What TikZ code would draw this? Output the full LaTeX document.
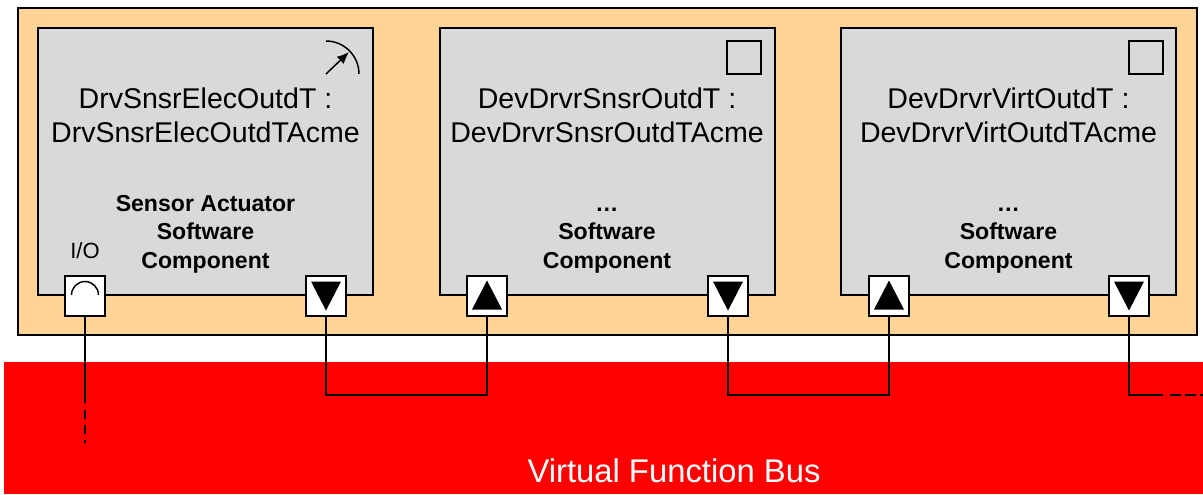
\documentclass[tikz,border=0pt]{standalone}
\usepackage{fontspec}
\setmainfont{Liberation Sans}
\usetikzlibrary{arrows.meta}
\definecolor{outerfill}{RGB}{255,212,150}
\definecolor{boxfill}{RGB}{217,217,217}
\definecolor{busred}{RGB}{255,0,0}
\tikzset{
  x=0.75pt,y=-0.75pt,
  swc/.style={draw=black,line width=1.5pt,fill=boxfill,outer sep=0pt,minimum width=251.25pt,minimum height=200.25pt,inner sep=0pt,anchor=north west},
  portbox/.style={draw=black,line width=1.5pt,fill=white,outer sep=0pt,minimum width=30pt,minimum height=30pt,inner sep=0pt},
  iconbox/.style={draw=black,line width=1.3pt,minimum width=25pt,minimum height=25pt,inner sep=0pt},
  wire/.style={line width=1.5pt,draw=black},
  comptitle/.style={font=\fontsize{21.4pt}{25.4pt}\selectfont,align=center,text=black},
  kind/.style={font=\fontsize{17.3pt}{21.4pt}\selectfont\bfseries,align=center,text=black},
}
\begin{document}
\begin{tikzpicture}
\useasboundingbox (0,0) rectangle (1203,494);
\fill[white] (0,0) rectangle (1203,494);
\node[draw=black,line width=1.5pt,fill=outerfill,outer sep=0pt,minimum width=883.9pt,minimum height=245.6pt,inner sep=0pt,anchor=north west] (outer) at (18,8) {};
\node[fill=busred,outer sep=0pt,minimum width=899pt,minimum height=99pt,inner sep=0pt,anchor=north west] (bus) at (4,362) {};
\node[font=\fontsize{24.6pt}{28pt}\selectfont,text=white] (buslabel) at (674,471) {Virtual Function Bus};
\node[swc] (a) at (38,28) {};
\node[swc] (b) at (440,28) {};
\node[swc] (c) at (841,28) {};
\node[comptitle] (an) at (205.5,115) {DrvSnsrElecOutdT :\\DrvSnsrElecOutdTAcme};
\node[comptitle] (bn) at (607,115) {DevDrvrSnsrOutdT :\\DevDrvrSnsrOutdTAcme};
\node[comptitle] (cn) at (1008.5,115) {DevDrvrVirtOutdT :\\DevDrvrVirtOutdTAcme};
\node[kind] (ak) at (205.5,234) {Sensor Actuator\\Software\\Component};
\node[kind] (bk) at (607,234) {\vphantom{S}…\\Software\\Component};
\node[kind] (ck) at (1008.5,234) {\vphantom{S}…\\Software\\Component};
\node[font=\fontsize{16.5pt}{18pt}\selectfont,text=black] (io) at (85,251) {I/O};
\node[iconbox] (bi) at (744,57.5) {};
\node[iconbox] (ci) at (1146,57.5) {};
% meter icon
\draw[line width=1.1pt] (326,41) arc[start angle=-90,end angle=0,radius=33];
\draw[line width=1.1pt,-{Latex[length=9pt,width=7.5pt]}] (326,74) -- (349,52);
% ports
\node[portbox] (p1) at (85,295.5) {};
\node[portbox] (p2) at (326,295.5) {};
\node[portbox] (p3) at (487,295.5) {};
\node[portbox] (p4) at (728,295.5) {};
\node[portbox] (p5) at (889,295.5) {};
\node[portbox] (p6) at (1129,295.5) {};
\draw[line width=1.1pt] (71.5,295) arc[start angle=180,end angle=360,radius=13.5];
\foreach \n in {p2,p4,p6}{\fill[black] ([shift={(-15,-14)}]\n.center) -- ([shift={(15,-14)}]\n.center) -- ([shift={(0,15)}]\n.center) -- cycle;}
\foreach \n in {p3,p5}{\fill[black] ([shift={(-15,14)}]\n.center) -- ([shift={(15,14)}]\n.center) -- ([shift={(0,-15)}]\n.center) -- cycle;}
% connectors
\coordinate (ioend) at (85,443);
\coordinate (level) at (0,395);
\coordinate (openend) at (1203,395);
\draw[wire,dash pattern=on 65.25pt off 5.25pt on 6.75pt off 4.5pt on 6.75pt off 4.5pt on 2.25pt] (p1.south) -- (ioend);
\draw[wire] (p2.south) -- (p2.south |- level) -- (p3.south |- level) -- (p3.south);
\draw[wire] (p4.south) -- (p4.south |- level) -- (p5.south |- level) -- (p5.south);
\draw[wire,dash pattern=on 84.75pt off 5.25pt on 8.25pt off 3pt on 8.25pt off 3pt on 3pt] (p6.south) -- (p6.south |- level) -- (openend);
\end{tikzpicture}
\end{document}
